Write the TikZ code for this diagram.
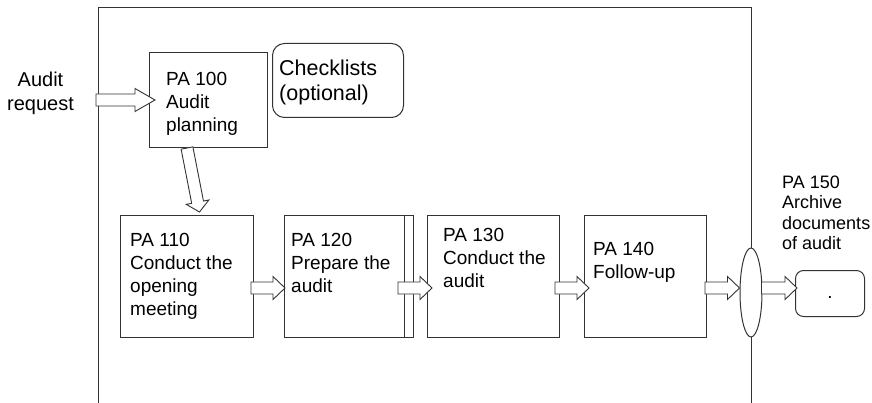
\documentclass[tikz,border=0pt]{standalone}
\usepackage{fontspec}
\setmainfont{Liberation Sans}
\usetikzlibrary{calc}
\usetikzlibrary{positioning}
\usetikzlibrary{shapes.geometric}

\colorlet{linegray}{black!80}

\tikzset{
  stepbox/.style={draw=linegray, line width=1pt, inner sep=0pt, anchor=north west},
  steptext/.style={align=left, inner sep=0pt, font=\fontsize{19}{23}\selectfont},
  flowarrow/.style={draw=linegray, fill=white, line width=0.9pt, line join=miter},
}

% hollow block arrow from #2 to the tip #3, #1 = head length
\newcommand{\blockarrow}[3][12pt]{%
  \draw[flowarrow] ($(#2)!6pt!90:(#3)$)
    -- ($(#3)!#1!(#2)!6pt!-90:(#2)$)
    -- ($(#3)!#1!(#2)!11.5pt!-90:(#2)$)
    -- (#3)
    -- ($(#3)!#1!(#2)!11.5pt!90:(#2)$)
    -- ($(#3)!#1!(#2)!6pt!90:(#2)$)
    -- ($(#2)!6pt!-90:(#3)$) -- cycle;}

\begin{document}
\begin{tikzpicture}[x=1pt,y=-1pt]
    \useasboundingbox (0,0) rectangle (872,403);
    % frame of the audit process
    \draw[linegray, line width=1.2pt] (98.5,403) |- (751.5,7.5) -- (751.5,403);

    % steps
    \node[stepbox, minimum width=118, minimum height=95] (p100) at (149,52) {};
    \node[stepbox, rounded corners=12pt, minimum width=131, minimum height=74] (check) at (272,43) {};
    \node[stepbox, minimum width=133, minimum height=122] (p110) at (120,215) {};
    \node[stepbox, minimum width=129, minimum height=122] (p120) at (284,215) {};
    \draw[linegray, line width=1pt] ($(p120.north east)+(-10,0)$) -- ($(p120.south east)+(-10,0)$);
    \node[stepbox, minimum width=132, minimum height=122] (p130) at (427,215) {};
    \node[stepbox, minimum width=122, minimum height=122] (p140) at (584,215) {};
    \node[ellipse, draw=linegray, fill=white, line width=1pt, inner sep=0pt,
          minimum width=22, minimum height=89] (arch) at (751,292.5) {};
    \node[stepbox, rounded corners=8pt, minimum width=69, minimum height=46, text height=10pt,
          font=\fontsize{19}{23}\selectfont] (p150) at (795,270) {.};

    % labels
    \node[steptext, align=center, anchor=north, font=\fontsize{20}{24}\selectfont] (req) at (40.5,71.7) {Audit\\request};
    \node[steptext, below right=20.4pt and 17pt of p100.north west] (t100) {PA 100\\Audit\\planning};
    \node[steptext, font=\fontsize{21.5}{25}\selectfont,
          below right=16.6pt and 7pt of check.north west] (tcheck) {Checklists\\(optional)};
    \node[steptext, below right=18.4pt and 10pt of p110.north west] (t110) {PA 110\\Conduct the\\opening\\meeting};
    \node[steptext, below right=18.4pt and 7pt of p120.north west] (t120) {PA 120\\Prepare the\\audit};
    \node[steptext, below right=13.4pt and 16pt of p130.north west] (t130) {PA 130\\Conduct the\\audit};
    \node[steptext, below right=27.4pt and 9pt of p140.north west] (t140) {PA 140\\Follow-up};
    \node[steptext, font=\fontsize{18}{20.5}\selectfont, anchor=north west] (t150) at (782,175.5)
        {PA 150\\Archive\\documents\\of audit};

    % arrow ends
    \coordinate (row) at (0,288);
    \coordinate (a0) at (96,100);
    \coordinate (a0tip) at ($(p100.west)+(6,0)$);
    \coordinate (a1) at ($(p100.south)+(-21.5,0)$);
    \coordinate (a1tip) at ($(p110.north)+(12.5,-3)$);
    \coordinate (a2) at ($(p110.east |- row)+(-3,0)$);
    \coordinate (a2tip) at ($(p120.west |- row)+(1,0)$);
    \coordinate (a3) at ($(p120.east |- row)+(-16,0)$);
    \coordinate (a3tip) at ($(p130.west |- row)+(5,0)$);
    \coordinate (a4) at ($(p130.east |- row)+(-5,0)$);
    \coordinate (a4tip) at ($(p140.west |- row)+(5,0)$);
    \coordinate (a5) at ($(p140.east |- row)+(-2,0)$);
    \coordinate (a5tip) at (arch.west |- row);
    \coordinate (a6) at ($(arch.east |- row)+(-1,0)$);
    \coordinate (a6tip) at ($(p150.west |- row)+(2,0)$);

    % flow
    \blockarrow[20pt]{a0}{a0tip}
    \blockarrow[10pt]{a1}{a1tip}
    \blockarrow{a2}{a2tip}
    \blockarrow{a3}{a3tip}
    \blockarrow{a4}{a4tip}
    \blockarrow{a5}{a5tip}
    \blockarrow{a6}{a6tip}
\end{tikzpicture}
\end{document}
